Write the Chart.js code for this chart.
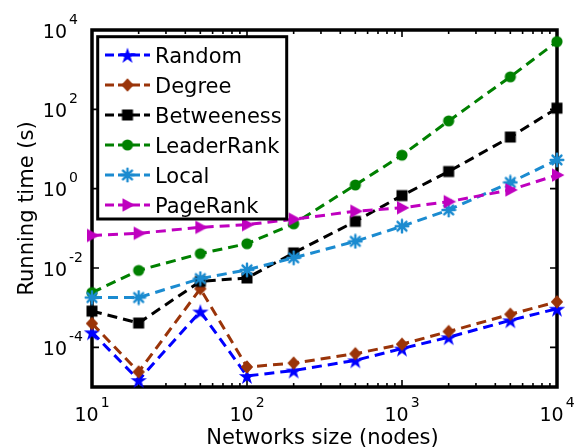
<!DOCTYPE html>
<html>
<head>
<meta charset="utf-8">
<script src="https://cdn.jsdelivr.net/npm/chart.js@4/dist/chart.umd.min.js"></script>
<style>
  html, body { margin: 0; padding: 0; background: #ffffff; }
  #wrap { width: 574px; height: 447px; }
</style>
</head>
<body>
<div id="wrap"><canvas id="chart" width="574" height="447"></canvas></div>
<script>
// Network sizes (nodes) and measured running times (s)
const sizes = [10, 20, 50, 100, 200, 500, 1000, 2000, 5000, 10000];
const randomTime     = [2.4e-4, 1.5e-5, 8.0e-4, 1.9e-5, 2.6e-5, 4.7e-5, 9.3e-5, 1.8e-4, 4.8e-4, 9.4e-4];
const degreeTime     = [4.0e-4, 2.4e-5, 3.0e-3, 3.2e-5, 4.0e-5, 6.9e-5, 1.2e-4, 2.5e-4, 6.8e-4, 1.4e-3];
const betweenessTime = [8.2e-4, 4.1e-4, 4.6e-3, 5.6e-3, 2.4e-2, 0.15, 0.67, 2.7, 20, 107];
const leaderRankTime = [2.4e-3, 8.7e-3, 2.3e-2, 4.1e-2, 0.13, 1.24, 7.0, 51, 660, 5100];
const localTime      = [1.8e-3, 1.8e-3, 5.4e-3, 9.0e-3, 1.8e-2, 0.047, 0.113, 0.29, 1.44, 5.3];
const pageRankTime   = [0.066, 0.075, 0.106, 0.124, 0.17, 0.27, 0.33, 0.47, 0.93, 2.2];

const seriesNames = ['Random', 'Degree', 'Betweeness', 'LeaderRank', 'Local', 'PageRank'];
const seriesValues = [randomTime, degreeTime, betweenessTime, leaderRankTime, localTime, pageRankTime];
const seriesColors = ['#0000ff', '#9a3409', '#000000', '#008000', '#1b8bd0', '#bf00bf'];

// Axis tick exponents (labels are 10^exp)
const xTickExps = [1, 2, 3, 4];
const yTickExps = [-4, -2, 0, 2, 4];
const xTitle = 'Networks size (nodes)';
const yTitle = 'Running time (s)';

const FONT = '"DejaVu Sans", Verdana, sans-serif';

// ---- marker glyphs ----
function makeMarker(size, paint) {
  const c = document.createElement('canvas');
  c.width = size; c.height = size;
  const g = c.getContext('2d');
  g.translate(size / 2, size / 2);
  paint(g);
  return c;
}
const markers = [
  // pentagram
  makeMarker(20, g => {
    const R = 8.6, r = R * 0.382;
    g.beginPath();
    for (let i = 0; i < 10; i++) {
      const a = -Math.PI / 2 + i * Math.PI / 5;
      const rr = i % 2 === 0 ? R : r;
      g.lineTo(rr * Math.cos(a), rr * Math.sin(a) + 1);
    }
    g.closePath();
    g.fillStyle = seriesColors[0];
    g.fill();
  }),
  // diamond
  makeMarker(16, g => {
    g.beginPath();
    g.moveTo(0, -6.8); g.lineTo(6.2, 0); g.lineTo(0, 6.8); g.lineTo(-6.2, 0);
    g.closePath();
    g.fillStyle = seriesColors[1];
    g.fill();
  }),
  // square
  makeMarker(14, g => {
    g.fillStyle = seriesColors[2];
    g.fillRect(-5.5, -5.5, 11, 11);
  }),
  // circle
  makeMarker(14, g => {
    g.beginPath();
    g.arc(0, 0, 5.6, 0, Math.PI * 2);
    g.fillStyle = seriesColors[3];
    g.fill();
  }),
  // asterisk
  makeMarker(16, g => {
    g.strokeStyle = seriesColors[4];
    g.lineWidth = 2.4;
    g.lineCap = 'round';
    for (let k = 0; k < 4; k++) {
      const a = k * Math.PI / 4;
      g.beginPath();
      g.moveTo(-6.3 * Math.cos(a), -6.3 * Math.sin(a));
      g.lineTo(6.3 * Math.cos(a), 6.3 * Math.sin(a));
      g.stroke();
    }
    g.beginPath();
    g.arc(0, 0, 3.2, 0, Math.PI * 2);
    g.fillStyle = seriesColors[4];
    g.fill();
  }),
  // right-pointing triangle
  makeMarker(16, g => {
    g.beginPath();
    g.moveTo(-5, -6.8); g.lineTo(7.5, 0); g.lineTo(-5, 6.8);
    g.closePath();
    g.fillStyle = seriesColors[5];
    g.fill();
  })
];

const DASH = [10, 6];

const datasets = seriesNames.map((name, i) => ({
  label: name,
  data: sizes.map((x, j) => ({ x: x, y: seriesValues[i][j] })),
  borderColor: seriesColors[i],
  backgroundColor: seriesColors[i],
  borderWidth: 3,
  borderDash: DASH,
  pointStyle: markers[i],
  pointRadius: 6,
  pointHoverRadius: 6,
  tension: 0,
  clip: false,
  order: seriesNames.length - i
}));

// ---- axes box, inward ticks, labels, legend ----
function drawPow(ctx, exp, x, y, mode) {
  const base = '10', sup = String(exp);
  ctx.fillStyle = '#000';
  ctx.textBaseline = 'alphabetic';
  ctx.font = '19px ' + FONT;
  const wb = ctx.measureText(base).width;
  ctx.font = '14px ' + FONT;
  const ws = ctx.measureText(sup).width;
  let left;
  if (mode === 'center') left = x - (wb + 2 + ws) / 2;
  else left = x - wb; // "10" right-aligned at x
  ctx.textAlign = 'left';
  ctx.font = '19px ' + FONT;
  ctx.fillText(base, left, y);
  ctx.font = '14px ' + FONT;
  ctx.fillText(sup, left + wb + 2, y - 14);
}

const framePlugin = {
  id: 'frame',
  beforeDatasetsDraw(chart) {
    const { ctx, chartArea: a, scales } = chart;
    const xs = scales.x, ys = scales.y;
    ctx.save();
    ctx.strokeStyle = '#000';
    ctx.lineWidth = 1.6;
    // x ticks, top and bottom, pointing inward
    for (let d = 1; d <= 4; d++) {
      for (let m = 1; m <= 9; m++) {
        const v = m * Math.pow(10, d);
        if (v > 10000) break;
        const px = xs.getPixelForValue(v);
        const len = m === 1 ? 7 : 4;
        ctx.beginPath();
        ctx.moveTo(px, a.bottom); ctx.lineTo(px, a.bottom - len);
        ctx.moveTo(px, a.top); ctx.lineTo(px, a.top + len);
        ctx.stroke();
      }
    }
    // y ticks, left and right
    yTickExps.forEach(e => {
      const py = ys.getPixelForValue(Math.pow(10, e));
      ctx.beginPath();
      ctx.moveTo(a.left, py); ctx.lineTo(a.left + 7, py);
      ctx.moveTo(a.right, py); ctx.lineTo(a.right - 7, py);
      ctx.stroke();
    });
    // box
    ctx.lineWidth = 3.5;
    ctx.strokeRect(a.left, a.top, a.right - a.left, a.bottom - a.top);
    ctx.restore();
  },
  afterDraw(chart) {
    const { ctx, chartArea: a, scales } = chart;
    const xs = scales.x, ys = scales.y;
    ctx.save();
    // tick labels
    xTickExps.forEach(e => drawPow(ctx, e, xs.getPixelForValue(Math.pow(10, e)), a.bottom + 34, 'center'));
    yTickExps.forEach(e => drawPow(ctx, e, 67, ys.getPixelForValue(Math.pow(10, e)) + 7.5, 'right'));
    // axis titles
    ctx.fillStyle = '#000';
    ctx.font = '21px ' + FONT;
    ctx.textAlign = 'center';
    ctx.textBaseline = 'alphabetic';
    ctx.fillText(xTitle, (a.left + a.right) / 2 - 2, 444);
    ctx.save();
    ctx.translate(33, (a.top + a.bottom) / 2);
    ctx.rotate(-Math.PI / 2);
    ctx.fillText(yTitle, 0, 0);
    ctx.restore();

    // legend
    const lx = 97.7, ly = 36.7, lw = 189, lh = 182.3;
    ctx.fillStyle = '#fff';
    ctx.fillRect(lx, ly, lw, lh);
    ctx.strokeStyle = '#000';
    ctx.lineWidth = 3;
    ctx.strokeRect(lx, ly, lw, lh);
    ctx.font = '21px ' + FONT;
    ctx.textAlign = 'left';
    seriesNames.forEach((name, i) => {
      const cy = 55 + i * 30;
      ctx.strokeStyle = seriesColors[i];
      ctx.lineWidth = 3;
      ctx.setLineDash([9, 4]);
      ctx.beginPath();
      ctx.moveTo(105, cy); ctx.lineTo(150, cy);
      ctx.stroke();
      ctx.setLineDash([]);
      const mk = markers[i];
      ctx.drawImage(mk, 127.5 - mk.width / 2, cy - mk.height / 2);
      ctx.fillStyle = '#000';
      ctx.fillText(name, 155, cy + 7.5);
    });
    ctx.restore();
  }
};

new Chart(document.getElementById('chart'), {
  type: 'line',
  data: { datasets: datasets },
  options: {
    responsive: false,
    animation: false,
    events: [],
    layout: { padding: { left: 92, top: 30, right: 17, bottom: 60 } },
    plugins: { legend: { display: false }, tooltip: { enabled: false } },
    scales: {
      x: { type: 'logarithmic', min: 10, max: 10000, display: false },
      y: { type: 'logarithmic', min: 1e-5, max: 1e4, display: false }
    }
  },
  plugins: [framePlugin]
});
</script>
</body>
</html>
